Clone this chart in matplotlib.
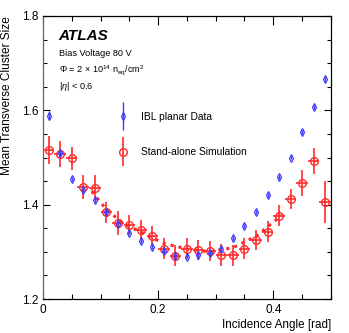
import numpy as np
import matplotlib
matplotlib.use("Agg")
import matplotlib.pyplot as plt
from matplotlib.ticker import MultipleLocator
from matplotlib.container import ErrorbarContainer
from matplotlib.legend_handler import HandlerErrorbar

plt.rcParams["font.family"] = ["Liberation Sans", "DejaVu Sans"]
plt.rcParams["mathtext.fontset"] = "custom"
plt.rcParams["mathtext.rm"] = "Liberation Sans"
plt.rcParams["mathtext.it"] = "Liberation Sans:italic"

# incidence angle bins [rad]
angle = [0.01, 0.03, 0.05, 0.07, 0.09, 0.11, 0.13, 0.15, 0.17, 0.19, 0.21, 0.23, 0.25,
         0.27, 0.29, 0.31, 0.33, 0.35, 0.37, 0.39, 0.41, 0.43, 0.45, 0.47, 0.49]

# IBL planar data
data_y = [1.589, 1.509, 1.455, 1.431, 1.410, 1.385, 1.360, 1.341, 1.323, 1.310, 1.302, 1.292, 1.290,
          1.293, 1.298, 1.307, 1.329, 1.355, 1.385, 1.420, 1.459, 1.500, 1.554, 1.607, 1.666]
data_err = [0.010, 0.006, 0.004, 0.004, 0.004, 0.004, 0.004, 0.004, 0.004, 0.004, 0.004, 0.004, 0.004,
            0.004, 0.004, 0.004, 0.004, 0.004, 0.004, 0.004, 0.004, 0.004, 0.004, 0.004, 0.004]

# stand-alone simulation
sim_y = [1.516, 1.507, 1.498, 1.437, 1.436, 1.384, 1.361, 1.357, 1.346, 1.334, 1.307, 1.292, 1.307,
         1.304, 1.302, 1.293, 1.293, 1.307, 1.325, 1.343, 1.377, 1.412, 1.446, 1.492, 1.406]
sim_err = [0.030, 0.028, 0.025, 0.026, 0.026, 0.022, 0.025, 0.021, 0.021, 0.021, 0.022, 0.022, 0.022,
           0.022, 0.022, 0.024, 0.022, 0.022, 0.022, 0.022, 0.022, 0.022, 0.027, 0.028, 0.045]
sim_xerr = 0.01

# dotted curve through simulation
fit_x = [0.085, 0.11, 0.14, 0.175, 0.21, 0.25, 0.29, 0.33, 0.37, 0.415]
fit_y = [1.428, 1.390, 1.360, 1.339, 1.318, 1.306, 1.300, 1.309, 1.333, 1.378]

red = "#ff2a2a"
blue = "#3c3cff"

fig = plt.figure(figsize=(3.49, 3.33), dpi=100)
ax = fig.add_axes([0.123, 0.102, 0.825, 0.850])

ax.plot(fit_x, fit_y, ls=":", lw=2.2, color=red, zorder=2)
ax.errorbar(angle, sim_y, yerr=sim_err, xerr=sim_xerr, fmt="o", ms=5.5, mfc="none",
            mec=red, mew=1.0, ecolor=red, elinewidth=1.2, capsize=0, zorder=3)
ax.errorbar(angle, data_y, yerr=data_err, fmt="d", ms=4.2, mfc="none",
            mec=blue, mew=0.9, ecolor=blue, elinewidth=1.0, capsize=0, zorder=4)

# legend proxies (vertical bars only)
h_data = ax.errorbar([np.nan], [np.nan], yerr=[1], fmt="d", ms=4.2, mfc="none",
                     mec=blue, mew=0.9, ecolor=blue, elinewidth=1.0, capsize=0)
h_sim = ax.errorbar([np.nan], [np.nan], yerr=[1], fmt="o", ms=5.5, mfc="none",
                    mec=red, mew=1.0, ecolor=red, elinewidth=1.2, capsize=0)
ax.legend([h_data, h_sim], ["IBL planar Data", "Stand-alone Simulation"],
          loc="upper left", bbox_to_anchor=(0.225, 0.695), frameon=False,
          fontsize=7.4, labelspacing=2.5, handlelength=1.2, handletextpad=1.1,
          numpoints=1,
          handler_map={ErrorbarContainer: HandlerErrorbar(xerr_size=0.5, yerr_size=1.4)})

ax.set_xlim(0, 0.5)
ax.set_ylim(1.2, 1.8)
ax.xaxis.set_major_locator(MultipleLocator(0.2))
ax.xaxis.set_minor_locator(MultipleLocator(0.05))
ax.yaxis.set_major_locator(MultipleLocator(0.2))
ax.yaxis.set_minor_locator(MultipleLocator(0.05))
ax.xaxis.set_major_formatter(plt.FuncFormatter(lambda v, p: "0" if abs(v) < 1e-9 else f"{v:g}"))
ax.tick_params(which="both", direction="in", top=True, right=True, labelsize=8.5, width=0.8)
ax.tick_params(axis="x", which="major", length=6.5)
ax.tick_params(axis="x", which="minor", length=3.5)
ax.tick_params(axis="y", which="major", length=5)
ax.tick_params(axis="y", which="minor", length=2.8)
for s in ax.spines.values():
    s.set_linewidth(0.9)
ax.spines["left"].set_color("#666666")

ax.set_xlabel("Incidence Angle [rad]", fontsize=8.4, loc="right", labelpad=2)
ax.set_ylabel("Mean Transverse Cluster Size", fontsize=8.6, loc="top", labelpad=6)

ax.text(0.055, 0.93, "ATLAS", transform=ax.transAxes, fontsize=11, fontweight="bold",
        fontstyle="italic", va="center")
ax.text(0.055, 0.868, "Bias Voltage 80 V", transform=ax.transAxes, fontsize=6.6, va="center")
ax.text(0.055, 0.808, r"$\Phi$ = 2 $\times$ 10$^{14}$ n$_{\mathrm{eq}}$/cm$^{2}$",
        transform=ax.transAxes, fontsize=6.6, va="center")
ax.text(0.055, 0.752, r"|$\eta$| < 0.6", transform=ax.transAxes, fontsize=6.6, va="center")

fig.savefig("out.png", dpi=100)
